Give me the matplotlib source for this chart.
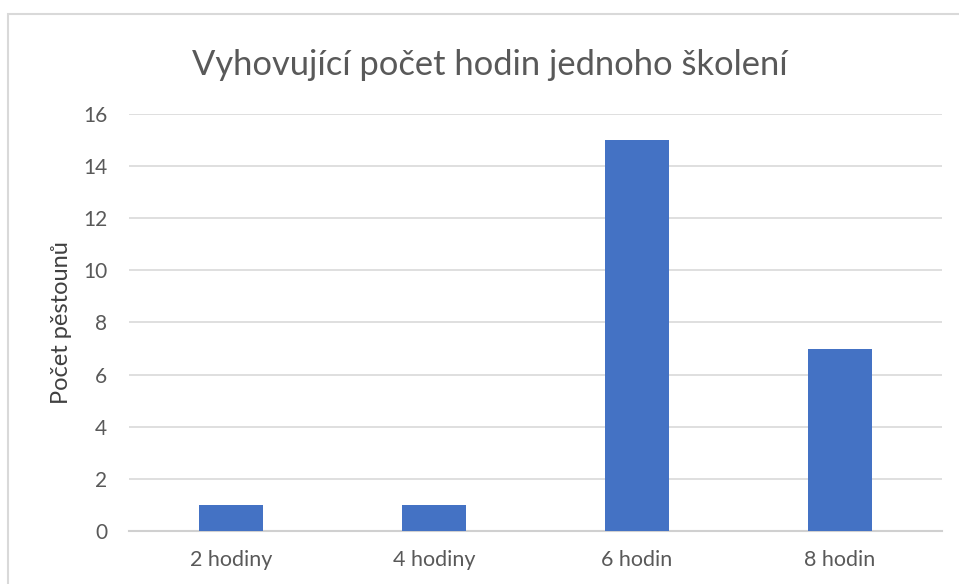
import matplotlib.pyplot as plt
import numpy as np
from matplotlib.patches import Rectangle

plt.rcParams['font.family'] = ['Lato', 'DejaVu Sans']

categories = ["2 hodiny", "4 hodiny", "6 hodin", "8 hodin"]
counts = [1, 1, 15, 7]
y_ticks = [0, 2, 4, 6, 8, 10, 12, 14, 16]

title = "Vyhovující počet hodin jednoho školení"
y_label = "Počet pěstounů"

text_gray = "#595959"
grid_gray = "#d9d9d9"
bar_blue = "#4472c4"

fig = plt.figure(figsize=(9.59, 5.84), dpi=100)
fig.patch.set_facecolor("white")

# chart border (runs off the right and bottom edges of the picture)
fig.patches.append(Rectangle((8 / 959, -0.05), 1.0, 1 - 14 / 584 + 0.05,
                             transform=fig.transFigure, fill=False,
                             edgecolor="#d9d9d9", linewidth=1.5))

ax = fig.add_axes([0.135, 0.0908, 0.8468, 0.714])
x = np.arange(len(categories))
ax.bar(x, counts, width=0.315, color=bar_blue, zorder=3)

ax.set_xlim(-0.5, len(categories) - 0.5)
ax.set_ylim(0, 16)
ax.set_yticks(y_ticks)
ax.set_xticks(x)
ax.set_xticklabels(categories)
ax.yaxis.grid(True, color=grid_gray, linewidth=1.2, zorder=0)
ax.set_axisbelow(True)

for side in ["top", "right", "left"]:
    ax.spines[side].set_visible(False)
ax.spines["bottom"].set_color("#d0d0d0")
ax.spines["bottom"].set_linewidth(1.5)
ax.tick_params(axis="y", length=0, labelsize=15, colors=text_gray, pad=16)
ax.tick_params(axis="x", length=0, labelsize=15.5, colors=text_gray, pad=14)

ax.set_ylabel(y_label, fontsize=17, color="#404040", labelpad=8)
fig.text(0.511, 0.888, title, ha="center", va="center", fontsize=24.8, color=text_gray)

fig.savefig("out.png", dpi=100)
